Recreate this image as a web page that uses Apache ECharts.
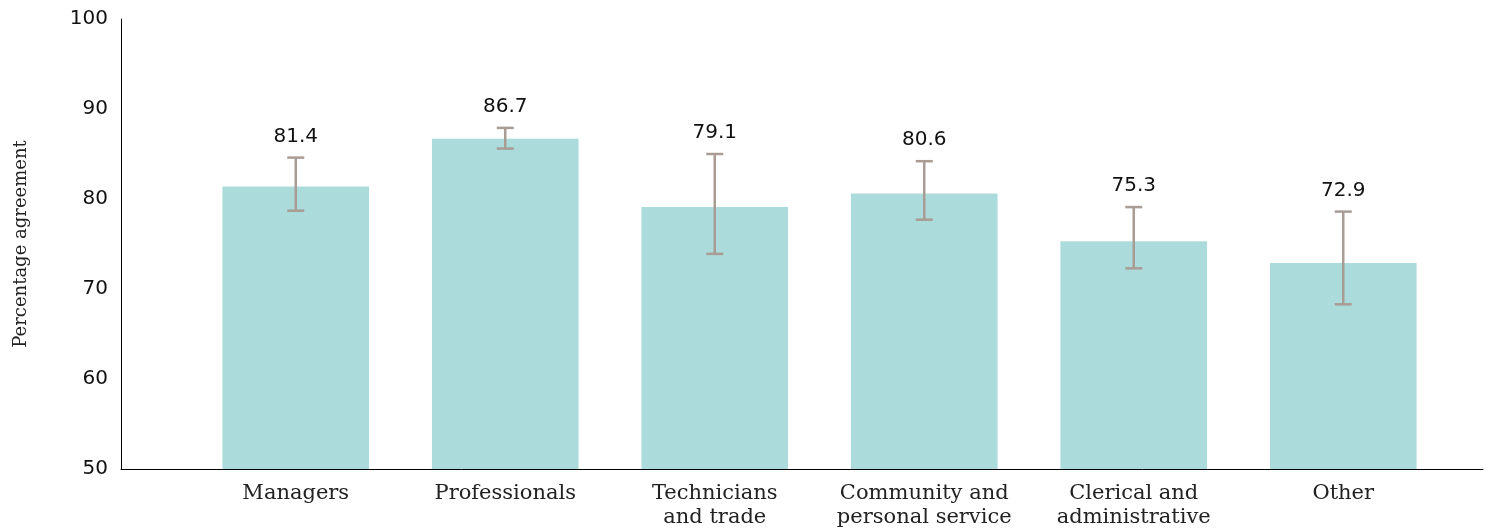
<!DOCTYPE html>
<html>
<head>
<meta charset="utf-8">
<script src="https://cdn.jsdelivr.net/npm/echarts@6/dist/echarts.min.js"></script>
<style>html,body{margin:0;padding:0;background:#fff;}#c{width:1499px;height:532px;}</style>
</head>
<body>
<div id="c"></div>
<script>
const categories = ['Managers', 'Professionals', 'Technicians\nand trade', 'Community and\npersonal service', 'Clerical and\nadministrative', 'Other'];
const values = [81.4, 86.7, 79.1, 80.6, 75.3, 72.9];
const errLow = [78.7, 85.6, 73.9, 77.7, 72.3, 68.3];
const errHigh = [84.6, 87.9, 85.0, 84.2, 79.1, 78.6];
const yTicks = [50, 60, 70, 80, 90, 100];

const chart = echarts.init(document.getElementById('c'), null, {renderer: 'canvas'});
const numFont = 'DejaVu Sans';
const errData = categories.map((c, i) => [i, errLow[i], errHigh[i], values[i]]);

chart.setOption({
  animation: false,
  backgroundColor: '#fff',
  grid: [
    {left: 191, right: 51, top: 19, bottom: 63},
    {left: 121, right: 16, top: 19, bottom: 63}
  ],
  xAxis: [
    {
      type: 'category', data: categories, gridIndex: 0,
      axisLine: {show: false}, axisTick: {show: false},
      axisLabel: {fontFamily: 'DejaVu Serif', fontSize: 21, color: '#222', margin: 13, lineHeight: 24, interval: 0}
    },
    {
      type: 'value', gridIndex: 1, min: 0, max: 1, z: 0,
      axisLine: {show: true, lineStyle: {color: '#000', width: 1}},
      axisTick: {show: false}, axisLabel: {show: false}, splitLine: {show: false}
    }
  ],
  yAxis: [
    {
      type: 'value', gridIndex: 0, min: yTicks[0], max: yTicks[yTicks.length - 1], interval: 10,
      offset: 70,
      axisLine: {show: true, lineStyle: {color: '#000', width: 1}},
      axisTick: {show: false}, splitLine: {show: false},
      axisLabel: {fontFamily: numFont, fontSize: 20, color: '#111', margin: 13},
      name: 'Percentage agreement', nameLocation: 'middle', nameGap: 91,
      nameTextStyle: {fontFamily: 'DejaVu Serif', fontSize: 18, color: '#222'}
    },
    {type: 'value', gridIndex: 1, show: false, min: 0, max: 1}
  ],
  series: [
    {
      type: 'bar', data: values, xAxisIndex: 0, yAxisIndex: 0, z: 3,
      barWidth: '70%', itemStyle: {color: '#acdbdb'}
    },
    {
      type: 'custom', xAxisIndex: 0, yAxisIndex: 0, data: errData, z: 5,
      renderItem: function (params, api) {
        const x = api.value(0);
        const lo = api.coord([x, api.value(1)]);
        const hi = api.coord([x, api.value(2)]);
        const hw = 8.5;
        const st = {stroke: '#a89c95', lineWidth: 2.5};
        return {
          type: 'group',
          children: [
            {type: 'line', shape: {x1: hi[0], y1: hi[1], x2: lo[0], y2: lo[1]}, style: st},
            {type: 'line', shape: {x1: hi[0] - hw, y1: hi[1], x2: hi[0] + hw, y2: hi[1]}, style: st},
            {type: 'line', shape: {x1: lo[0] - hw, y1: lo[1], x2: lo[0] + hw, y2: lo[1]}, style: st},
            {type: 'text', x: hi[0], y: hi[1] - 11, style: {
              text: api.value(3).toFixed(1), fontFamily: numFont, fontSize: 20, fill: '#111',
              align: 'center', verticalAlign: 'bottom'
            }}
          ]
        };
      }
    }
  ]
});
</script>
</body>
</html>
